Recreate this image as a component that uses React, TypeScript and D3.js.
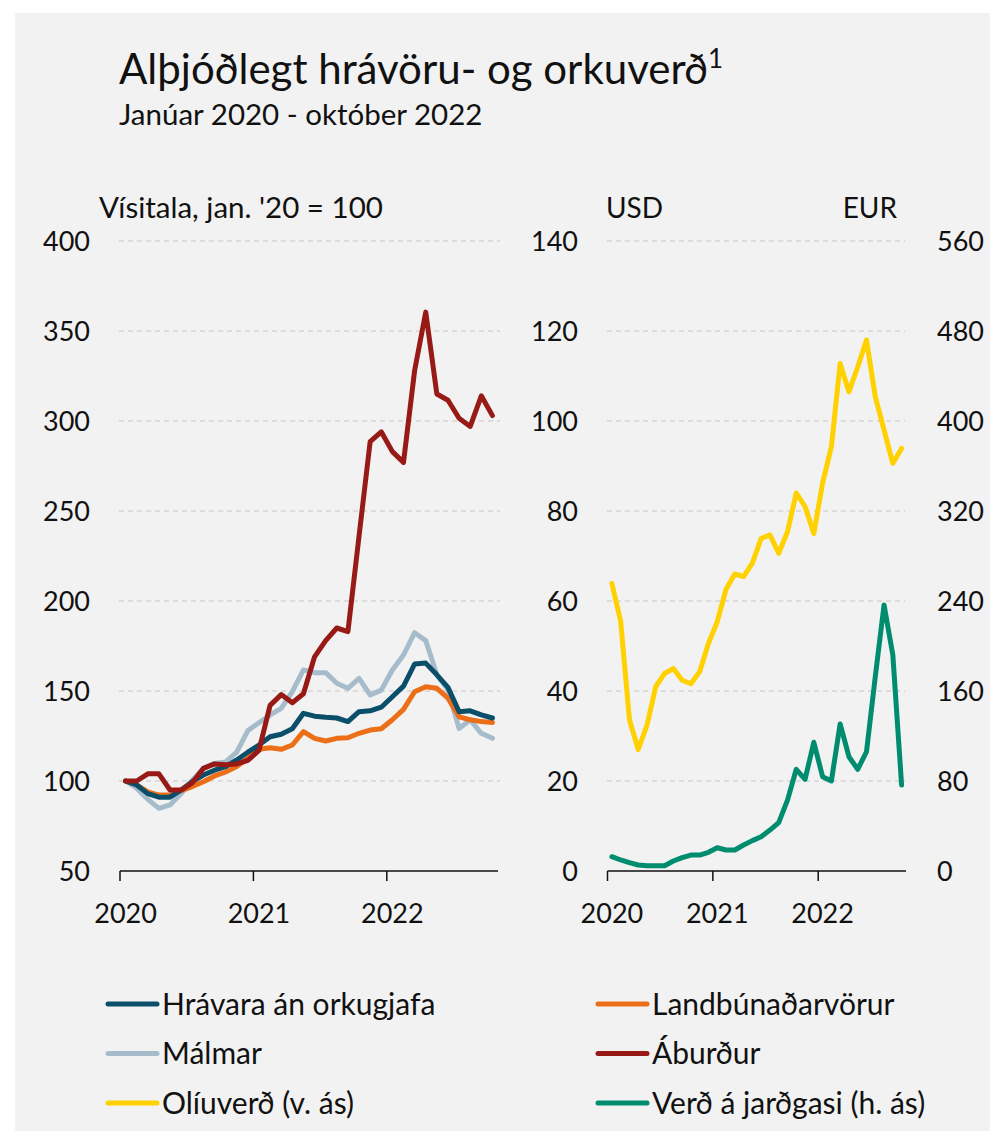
import { useEffect, useRef } from "react";
import * as d3 from "d3";

// Jan 2020 - Oct 2022, monthly
const months = d3.timeMonths(new Date(2020, 0, 1), new Date(2022, 10, 1));
const yearTicks = ["2020", "2021", "2022"];

// left panel, index jan 2020 = 100
const hravara = [100, 97.8, 93, 91, 91, 95, 99.6, 103.3, 106, 108, 111.7, 116, 120, 124.6, 126, 129, 137.6, 136, 135.4, 135, 133, 138.5, 139, 141, 146.8, 152.7, 165, 165.5, 159, 152, 138.5, 139, 136.7, 135];
const landbunadur = [100, 97.8, 94, 92.2, 92.2, 94.6, 96.9, 99.6, 102.8, 105, 108, 112.6, 117.6, 118.5, 117.6, 120, 127.4, 123.7, 122.2, 123.7, 124, 126.5, 128.3, 129, 134, 139.8, 149.6, 152.4, 151.5, 146, 135.7, 134, 133, 132.5];
const malmar = [100, 96, 89.8, 84.8, 86.7, 93, 100.5, 107, 109.8, 110.6, 116, 128, 132.4, 136.7, 140.4, 149.6, 161.7, 160.2, 160.2, 154.3, 151.5, 157, 147.8, 150.5, 161.7, 170, 182.4, 178, 159, 150.5, 129.2, 133.9, 126.5, 123.7];
const aburdur = [100, 100, 104, 104, 95, 95, 99, 107, 109.5, 109, 109.5, 111.5, 117, 142, 148, 143.5, 148.5, 169, 178, 185, 183, 236, 288.5, 294, 283, 277, 328, 360.5, 315, 311.5, 301.5, 297, 314, 303];

// right panel
const oliuverdUsd = [63.9, 55.5, 33.6, 27, 32.4, 41, 43.9, 45, 42.4, 41.6, 44.3, 50.6, 55.4, 62.6, 66, 65.4, 68.4, 73.9, 74.7, 70.6, 75.4, 84, 81, 75, 86.2, 94.3, 112.8, 106.5, 112, 118, 105.4, 98, 90.6, 93.9];
const jardgasEur = [12.7, 9.8, 7.4, 5.3, 4.7, 4.7, 4.7, 8.9, 11.9, 14.2, 14.2, 16.6, 20.7, 18.7, 18.7, 23.1, 27, 30.5, 36.4, 43, 63, 90.4, 81.5, 114.4, 83.8, 80, 130.7, 101.6, 90.4, 106, 172.7, 236.4, 192, 76.4];

const leftTicks = [50, 100, 150, 200, 250, 300, 350, 400];
const usdTicks = [0, 20, 40, 60, 80, 100, 120, 140];
const eurTicks = [0, 80, 160, 240, 320, 400, 480, 560];

const leftSeries = [
  { name: "Málmar", values: malmar, color: "#a7bccb" },
  { name: "Landbúnaðarvörur", values: landbunadur, color: "#ec6e17" },
  { name: "Hrávara án orkugjafa", values: hravara, color: "#0b4e6a" },
  { name: "Áburður", values: aburdur, color: "#981a17" },
];

const legendItems = [
  { name: "Hrávara án orkugjafa", color: "#0b4e6a" },
  { name: "Landbúnaðarvörur", color: "#ec6e17" },
  { name: "Málmar", color: "#a7bccb" },
  { name: "Áburður", color: "#981a17" },
  { name: "Olíuverð (v. ás)", color: "#ffd100" },
  { name: "Verð á jarðgasi (h. ás)", color: "#008c6e" },
];

const FONT = "Lato, 'Noto Sans', sans-serif";
const TXT = "#111";

export default function App() {
  const ref = useRef<SVGSVGElement>(null);

  useEffect(() => {
    const svg = d3.select(ref.current);
    svg.selectAll("*").remove();

    svg.append("rect").attr("x", 15).attr("y", 13).attr("width", 975).attr("height", 1118).attr("fill", "#f2f2f2");

    const title = svg.append("text").attr("x", 119).attr("y", 84)
      .attr("font-size", 42).attr("fill", TXT).text("Alþjóðlegt hrávöru- og orkuverð");
    title.append("tspan").attr("font-size", 26).attr("dy", -16).text("1");

    svg.append("text").attr("x", 119).attr("y", 125).attr("font-size", 29.5).attr("fill", TXT)
      .text("Janúar 2020 - október 2022");

    const top = 241, bottom = 871;

    // ---------- left panel ----------
    const xL = d3.scaleBand<Date>().domain(months).range([120, 498]);
    const yL = d3.scaleLinear().domain([50, 400]).range([bottom, top]);
    const gL = svg.append("g");

    gL.selectAll(".grid").data(leftTicks.slice(1)).join("line")
      .attr("x1", 119).attr("x2", 500)
      .attr("y1", d => yL(d)).attr("y2", d => yL(d))
      .attr("stroke", "#c6c6c6").attr("stroke-width", 1).attr("stroke-dasharray", "5,4");

    gL.selectAll(".ytick").data(leftTicks).join("text")
      .attr("x", 90).attr("y", d => yL(d)).attr("dy", "0.36em")
      .attr("text-anchor", "end").attr("font-size", 27).attr("fill", TXT)
      .text(d => d);

    svg.append("text").attr("x", 99).attr("y", 218).attr("font-size", 29.5).attr("fill", TXT)
      .text("Vísitala, jan. '20 = 100");

    const lineL = d3.line<number>()
      .x((_, i) => xL(months[i])! + xL.bandwidth() / 2)
      .y(d => yL(d))
      .curve(d3.curveLinear);

    gL.selectAll(".series").data(leftSeries).join("path")
      .attr("d", d => lineL(d.values))
      .attr("fill", "none").attr("stroke", d => d.color)
      .attr("stroke-width", 5).attr("stroke-linejoin", "round").attr("stroke-linecap", "round");

    const janL = months.filter(m => m.getMonth() === 0);
    gL.append("line").attr("x1", 120).attr("x2", 498).attr("y1", bottom).attr("y2", bottom)
      .attr("stroke", "#111").attr("stroke-width", 1.5);
    gL.selectAll(".xtick").data(janL).join("line")
      .attr("x1", d => xL(d)!).attr("x2", d => xL(d)!)
      .attr("y1", bottom).attr("y2", bottom + 10)
      .attr("stroke", "#111").attr("stroke-width", 1.5);
    gL.selectAll(".xlab").data(janL).join("text")
      .attr("x", d => xL(d)! + xL.bandwidth() / 2).attr("y", 923)
      .attr("text-anchor", "middle").attr("font-size", 27).attr("fill", TXT)
      .text((_, i) => yearTicks[i]);

    // ---------- right panel ----------
    const xR = d3.scaleBand<Date>().domain(months).range([607.5, 906]);
    const yUsd = d3.scaleLinear().domain([0, 140]).range([bottom, top]);
    const yEur = d3.scaleLinear().domain([0, 560]).range([bottom, top]);
    const gR = svg.append("g");

    gR.selectAll(".grid").data(usdTicks.slice(1)).join("line")
      .attr("x1", 607).attr("x2", 905)
      .attr("y1", d => yUsd(d)).attr("y2", d => yUsd(d))
      .attr("stroke", "#c6c6c6").attr("stroke-width", 1).attr("stroke-dasharray", "5,4");

    gR.selectAll(".ytickl").data(usdTicks).join("text")
      .attr("x", 578).attr("y", d => yUsd(d)).attr("dy", "0.36em")
      .attr("text-anchor", "end").attr("font-size", 27).attr("fill", TXT)
      .text(d => d);
    gR.selectAll(".ytickr").data(eurTicks).join("text")
      .attr("x", 937).attr("y", d => yEur(d)).attr("dy", "0.36em")
      .attr("text-anchor", "start").attr("font-size", 27).attr("fill", TXT)
      .text(d => d);

    svg.append("text").attr("x", 606).attr("y", 218).attr("font-size", 28).attr("fill", TXT).text("USD");
    svg.append("text").attr("x", 897).attr("y", 218).attr("text-anchor", "end")
      .attr("font-size", 28).attr("fill", TXT).text("EUR");

    const xr = (i: number) => xR(months[i])! + xR.bandwidth() / 2;
    gR.append("path")
      .attr("d", d3.line<number>().x((_, i) => xr(i)).y(d => yUsd(d))(oliuverdUsd))
      .attr("fill", "none").attr("stroke", "#ffd100")
      .attr("stroke-width", 5).attr("stroke-linejoin", "round").attr("stroke-linecap", "round");
    gR.append("path")
      .attr("d", d3.line<number>().x((_, i) => xr(i)).y(d => yEur(d))(jardgasEur))
      .attr("fill", "none").attr("stroke", "#008c6e")
      .attr("stroke-width", 5).attr("stroke-linejoin", "round").attr("stroke-linecap", "round");

    gR.append("line").attr("x1", 607.5).attr("x2", 906).attr("y1", bottom).attr("y2", bottom)
      .attr("stroke", "#111").attr("stroke-width", 1.5);
    gR.selectAll(".xtick").data(janL).join("line")
      .attr("x1", d => xR(d)!).attr("x2", d => xR(d)!)
      .attr("y1", bottom).attr("y2", bottom + 10)
      .attr("stroke", "#111").attr("stroke-width", 1.5);
    gR.selectAll(".xlab").data(janL).join("text")
      .attr("x", d => xR(d)! + xR.bandwidth() / 2).attr("y", 923)
      .attr("text-anchor", "middle").attr("font-size", 27).attr("fill", TXT)
      .text((_, i) => yearTicks[i]);

    // ---------- legend ----------
    const leg = svg.append("g");
    const item = leg.selectAll(".item").data(legendItems).join("g")
      .attr("transform", (_, i) => `translate(${i % 2 === 0 ? 108 : 598}, ${1004 + Math.floor(i / 2) * 49.5})`);
    item.append("line").attr("x1", 0).attr("x2", 49).attr("y1", 0).attr("y2", 0)
      .attr("stroke", d => d.color).attr("stroke-width", 5).attr("stroke-linecap", "round");
    item.append("text").attr("x", 54).attr("y", 0).attr("dy", "0.36em")
      .attr("font-size", 30).attr("fill", TXT).text(d => d.name);
  }, []);

  return (
    <svg ref={ref} width={995} height={1138} fontFamily={FONT}
      style={{ position: "absolute", left: 0, top: 0, background: "#fff" }} />
  );
}
